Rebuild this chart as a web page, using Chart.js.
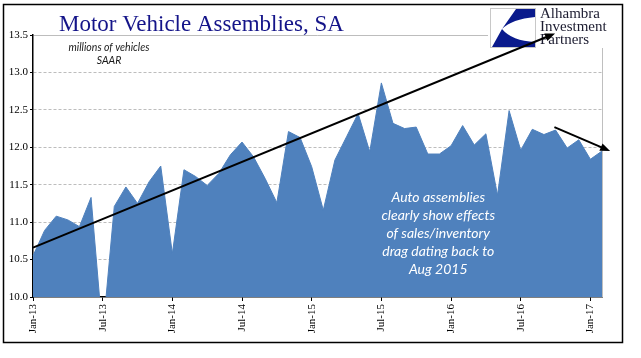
<!DOCTYPE html>
<html>
<head>
<meta charset="utf-8">
<script src="https://cdn.jsdelivr.net/npm/chart.js@4"></script>
<style>
  html, body { margin: 0; padding: 0; background: #fff; }
  canvas { display: block; }
</style>
</head>
<body>
<canvas id="chart" width="641" height="358"></canvas>
<script>
// ---- data ----
const months = [
  "Jan-13","Feb-13","Mar-13","Apr-13","May-13","Jun-13","Jul-13","Aug-13","Sep-13","Oct-13","Nov-13","Dec-13",
  "Jan-14","Feb-14","Mar-14","Apr-14","May-14","Jun-14","Jul-14","Aug-14","Sep-14","Oct-14","Nov-14","Dec-14",
  "Jan-15","Feb-15","Mar-15","Apr-15","May-15","Jun-15","Jul-15","Aug-15","Sep-15","Oct-15","Nov-15","Dec-15",
  "Jan-16","Feb-16","Mar-16","Apr-16","May-16","Jun-16","Jul-16","Aug-16","Sep-16","Oct-16","Nov-16","Dec-16",
  "Jan-17","Feb-17"
];
const assemblies = [
  10.55, 10.89, 11.08, 11.03, 10.94, 11.33, 9.50, 11.21, 11.47, 11.25, 11.54, 11.75,
  10.58, 11.70, 11.61, 11.49, 11.65, 11.90, 12.07, 11.87, 11.58, 11.26, 12.21, 12.13,
  11.74, 11.16, 11.83, 12.14, 12.45, 11.94, 12.86, 12.32, 12.25, 12.27, 11.91, 11.91,
  12.02, 12.29, 12.03, 12.18, 11.36, 12.49, 11.96, 12.24, 12.17, 12.23, 11.99, 12.10,
  11.84, 11.95
];
const yTicks = [10.0, 10.5, 11.0, 11.5, 12.0, 12.5, 13.0, 13.5];
// arrows: [fromIndex, fromValue, toIndex, toValue]
const trendArrow = [0, 10.66, 44.96, 13.52];
const recentArrow = [44.9, 12.27, 49.7, 11.95];
const noteLines = ["Auto assemblies", "clearly show effects", "of sales/inventory", "drag dating back to", "Aug 2015"];

const serif = '"Liberation Serif", "DejaVu Serif", serif';

function arrow(ctx, x1, y1, x2, y2) {
  const a = Math.atan2(y2 - y1, x2 - x1);
  const len = 10, w = 4;
  ctx.save();
  ctx.strokeStyle = "#000";
  ctx.fillStyle = "#000";
  ctx.lineWidth = 2;
  ctx.beginPath();
  ctx.moveTo(x1, y1);
  ctx.lineTo(x2 - Math.cos(a) * len * 0.8, y2 - Math.sin(a) * len * 0.8);
  ctx.stroke();
  ctx.beginPath();
  ctx.moveTo(x2, y2);
  ctx.lineTo(x2 - Math.cos(a) * len + Math.sin(a) * w, y2 - Math.sin(a) * len - Math.cos(a) * w);
  ctx.lineTo(x2 - Math.cos(a) * len - Math.sin(a) * w, y2 - Math.sin(a) * len + Math.cos(a) * w);
  ctx.closePath();
  ctx.fill();
  ctx.restore();
}

const decorations = {
  id: "decorations",
  beforeDatasetsDraw(chart) {
    const { ctx, chartArea } = chart;
    // light plot border on the right
    ctx.save();
    ctx.strokeStyle = "#bfbfbf";
    ctx.lineWidth = 1;
    ctx.beginPath();
    ctx.moveTo(chartArea.right + 0.5, chartArea.top);
    ctx.lineTo(chartArea.right + 0.5, chartArea.bottom);
    ctx.stroke();
    ctx.restore();
  },
  afterDraw(chart) {
    const { ctx, chartArea } = chart;
    const x = chart.scales.x, y = chart.scales.y;

    // title
    ctx.save();
    ctx.fillStyle = "#141489";
    ctx.font = "23px " + serif;
    ctx.textBaseline = "alphabetic";
    ctx.fillText("Motor Vehicle Assemblies, SA", 59, 31);

    // units
    ctx.fillStyle = "#1a1a1a";
    ctx.font = "italic 10.5px Lato, sans-serif";
    ctx.textAlign = "center";
    ctx.textBaseline = "middle";
    ctx.fillText("millions of vehicles", 109, 48);
    ctx.fillText("SAAR", 109, 61);
    ctx.restore();

    // logo
    ctx.save();
    ctx.fillStyle = "#fff";
    ctx.fillRect(488, 5, 134, 43);
    ctx.strokeStyle = "#c8c8c8";
    ctx.lineWidth = 1;
    ctx.strokeRect(490.5, 8.5, 45, 39);
    ctx.fillStyle = "#0a1a8c";
    ctx.beginPath();
    ctx.moveTo(516, 9);
    ctx.lineTo(535, 9);
    ctx.lineTo(535, 17);
    ctx.quadraticCurveTo(512, 19, 502, 29);
    ctx.closePath();
    ctx.fill();
    ctx.beginPath();
    ctx.moveTo(502, 29);
    ctx.quadraticCurveTo(512, 41, 535, 42);
    ctx.lineTo(535, 47);
    ctx.lineTo(492, 47);
    ctx.closePath();
    ctx.fill();
    ctx.fillStyle = "#1c1c30";
    ctx.font = "15px " + serif;
    ctx.fillText("Alhambra", 540, 18);
    ctx.fillText("Investment", 540, 31);
    ctx.fillText("Partners", 540, 44);
    ctx.restore();

    // note
    ctx.save();
    ctx.fillStyle = "#fff";
    ctx.font = "italic 14px Lato, sans-serif";
    ctx.textAlign = "center";
    ctx.textBaseline = "middle";
    const nx = x.getPixelForValue(34.9);
    noteLines.forEach((t, i) => ctx.fillText(t, nx, 197 + i * 18));
    ctx.restore();

    // arrows
    arrow(ctx, x.getPixelForValue(trendArrow[0]), y.getPixelForValue(trendArrow[1]),
               x.getPixelForValue(trendArrow[2]), y.getPixelForValue(trendArrow[3]));
    arrow(ctx, x.getPixelForValue(recentArrow[0]), y.getPixelForValue(recentArrow[1]),
               x.getPixelForValue(recentArrow[2]), y.getPixelForValue(recentArrow[3]));

    // outer frame
    ctx.save();
    ctx.strokeStyle = "#000";
    ctx.lineWidth = 1.5;
    ctx.strokeRect(3.5, 4.5, 619, 338);
    ctx.restore();
  }
};

new Chart(document.getElementById("chart"), {
  type: "line",
  data: {
    labels: months,
    datasets: [{
      data: assemblies,
      backgroundColor: "#4f81bd",
      borderColor: "#4f81bd",
      borderWidth: 1,
      fill: "start",
      tension: 0,
      pointRadius: 0
    }]
  },
  options: {
    responsive: false,
    animation: false,
    layout: { padding: { top: 35, right: 39, left: 0, bottom: 0 } },
    plugins: { legend: { display: false }, tooltip: { enabled: false } },
    scales: {
      x: {
        offset: false,
        afterFit: (s) => { s.height = 61; },
        grid: { drawOnChartArea: false, tickLength: 4, tickColor: "#000" },
        border: { color: "#000", width: 1.5 },
        ticks: {
          autoSkip: false,
          minRotation: 90,
          maxRotation: 90,
          padding: 3,
          color: "#000",
          font: { family: serif, size: 11 },
          callback: (v, i) => (i % 6 === 0 ? months[i] : null)
        }
      },
      y: {
        min: yTicks[0],
        max: yTicks[yTicks.length - 1],
        afterFit: (s) => { s.width = 33; },
        afterBuildTicks: (s) => { s.ticks = yTicks.map(v => ({ value: v })); },
        grid: {
          color: (c) => (c.tick && c.tick.value === 10 ? "rgba(0,0,0,0)" : "#bdbdbd"),
          lineWidth: 1,
          tickLength: 3,
          tickColor: "#000"
        },
        border: {
          color: "#000",
          width: 1.5,
          dash: (c) => (c.tick && c.tick.value === 13.5 ? [] : [3, 2])
        },
        ticks: {
          padding: 2,
          color: "#000",
          font: { family: serif, size: 11 },
          callback: (v) => v.toFixed(1)
        }
      }
    }
  },
  plugins: [decorations]
});
</script>
</body>
</html>
